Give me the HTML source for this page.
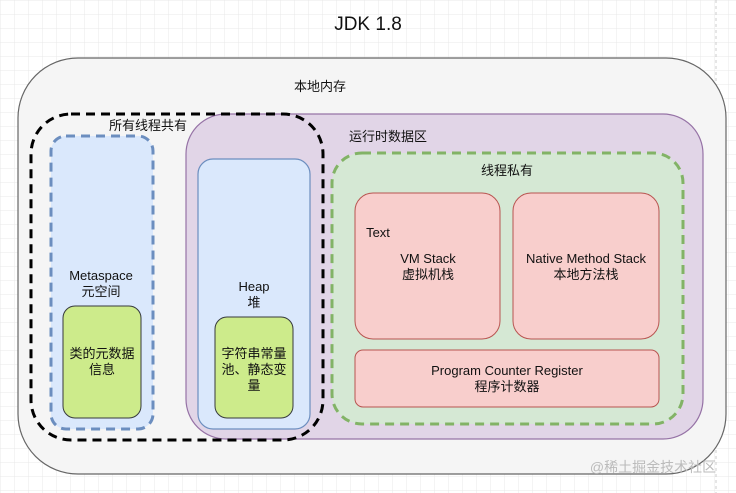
<!DOCTYPE html>
<html><head><meta charset="utf-8"><style>
html,body{margin:0;padding:0;background:#fff}
svg{display:block}
text{font-family:"Liberation Sans","Noto Sans CJK SC",sans-serif;font-size:13px;fill:#111;text-anchor:middle}
</style></head><body>
<svg width="736" height="493" viewBox="0 0 736 493" xmlns="http://www.w3.org/2000/svg">
<defs><pattern id="g" width="14" height="14" patternUnits="userSpaceOnUse"><path d="M14 0H0V14" fill="none" stroke="#e8e8e8" stroke-width="1"/></pattern></defs>
<rect width="736" height="493" fill="url(#g)"/>
<line x1="716" y1="0" x2="716" y2="493" stroke="#ccc" stroke-dasharray="3 3"/>
<text x="368" y="30" style="font-size:19px">JDK 1.8</text>
<rect x="18" y="58" width="708" height="416" rx="60" fill="#f5f5f5" stroke="#666" stroke-width="1.2"/>
<text x="320" y="91">本地内存</text>
<rect x="186" y="114" width="517" height="325" rx="40" fill="#e1d5e7" stroke="#9673a6" stroke-width="1.2"/>
<text x="388" y="141">运行时数据区</text>
<rect x="51" y="136" width="102" height="293" rx="15" fill="#dae8fc" stroke="#6c8ebf" stroke-width="3" stroke-dasharray="9 6"/>
<text x="101" y="280">Metaspace</text>
<text x="101" y="296">元空间</text>
<rect x="63" y="306" width="78" height="112" rx="12" fill="#cdeb8b" stroke="#36393d" stroke-width="1"/>
<text x="102" y="358">类的元数据</text>
<text x="102" y="374">信息</text>
<rect x="198" y="159" width="112" height="270" rx="15" fill="#dae8fc" stroke="#6c8ebf" stroke-width="1.2"/>
<text x="254" y="291">Heap</text>
<text x="254" y="307">堆</text>
<rect x="215" y="317" width="78" height="101" rx="12" fill="#cdeb8b" stroke="#36393d" stroke-width="1"/>
<text x="254" y="358">字符串常量</text>
<text x="254" y="374">池、静态变</text>
<text x="254" y="390">量</text>
<rect x="31" y="114" width="292" height="326" rx="40" fill="none" stroke="#000" stroke-width="3" stroke-dasharray="9 6"/>
<text x="148" y="130">所有线程共有</text>
<rect x="332" y="153" width="351" height="271" rx="30" fill="#d5e8d4" stroke="#82b366" stroke-width="3" stroke-dasharray="9 6"/>
<text x="507" y="175">线程私有</text>
<rect x="355" y="193" width="145" height="146" rx="18" fill="#f8cecc" stroke="#b85450" stroke-width="1"/>
<text x="378" y="237">Text</text>
<text x="428" y="263">VM Stack</text>
<text x="428" y="279">虚拟机栈</text>
<rect x="513" y="193" width="146" height="146" rx="18" fill="#f8cecc" stroke="#b85450" stroke-width="1"/>
<text x="586" y="263">Native Method Stack</text>
<text x="586" y="279">本地方法栈</text>
<rect x="355" y="350" width="304" height="57" rx="8" fill="#f8cecc" stroke="#b85450" stroke-width="1"/>
<text x="507" y="375">Program Counter Register</text>
<text x="507" y="391">程序计数器</text>
<text x="653" y="472" style="font-size:14px;fill:#bbb">@稀土掘金技术社区</text>
</svg>
</body></html>
